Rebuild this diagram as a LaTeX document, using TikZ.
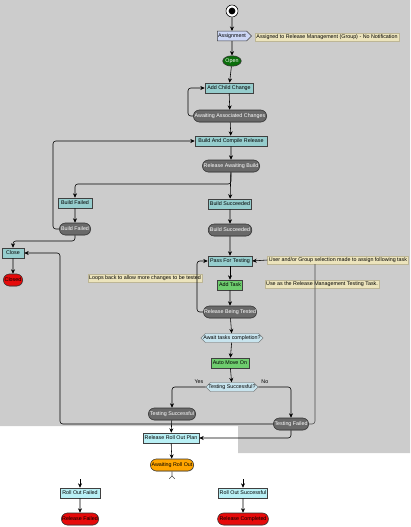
\documentclass[tikz,border=0pt]{standalone}
\usepackage{fontspec}
\setsansfont{Liberation Sans}
\usepackage{tikz}
\usetikzlibrary{arrows.meta,positioning,shapes.geometric,shapes.misc,shapes.symbols,shadows}
\definecolor{screengray}{RGB}{204,204,204}
\definecolor{boxteal}{RGB}{150,205,205}
\definecolor{stategray}{RGB}{105,105,105}
\definecolor{taskgreen}{RGB}{110,205,110}
\definecolor{opengreen}{RGB}{10,110,10}
\definecolor{closedred}{RGB}{230,10,10}
\definecolor{rolloutorange}{RGB}{255,165,0}
\definecolor{notebeige}{RGB}{236,228,188}
\definecolor{decideblue}{RGB}{200,228,238}
\definecolor{planblue}{RGB}{185,240,245}
\tikzset{
  unit/.style={draw=black!75,line width=0.4pt,fill=boxteal,minimum height=0.25cm,inner xsep=1pt,inner ysep=0.5pt,font=\tinytext,drop shadow={shadow xshift=0.4pt,shadow yshift=-0.4pt,opacity=0.35}},
  task/.style={unit,fill=taskgreen},
  plan/.style={unit,fill=planblue},
  state/.style={rounded rectangle,draw=black!80,line width=0.4pt,fill=stategray,text=white!88,minimum height=0.3cm,inner xsep=1pt,inner ysep=0.5pt,font=\tinytext,drop shadow={shadow xshift=0.4pt,shadow yshift=-0.4pt,opacity=0.35}},
  endstate/.style={state,fill=closedred,text=black},
  note/.style={fill=notebeige,draw=notebeige!80!black,line width=0.2pt,inner xsep=1pt,inner ysep=1pt,font=\tinytext},
  decide/.style={chamfered rectangle,chamfered rectangle xsep=0.15cm,chamfered rectangle ysep=0.05cm,draw=black!60,line width=0.3pt,fill=decideblue,inner xsep=0pt,inner ysep=0pt,font=\tinytext},
  arr/.style={-{Stealth[length=1.1mm,width=1mm]},draw=black,line width=0.4pt},
  link/.style={draw=black!70,line width=0.4pt,rounded corners=2pt}
}
\newcommand{\tinytext}{\sffamily\fontsize{3.8}{4.2}\selectfont}

\begin{document}
\begin{tikzpicture}[x=0.025cm,y=-0.025cm]
  \useasboundingbox (0,0) rectangle (410,527);
  \fill[screengray] (0,0) -- (410,0) -- (410,453) -- (238,453) -- (238,426) -- (0,426) -- cycle;

  % start and assignment
  \node[circle,draw=black,fill=white,minimum size=0.3cm,inner sep=0pt] (start) at (232,11) {};
  \node[circle,fill=black,minimum size=0.17cm,inner sep=0pt] at (start) {};
  \node[signal,signal to=east,draw=black!75,fill=boxteal!60!blue!30,minimum height=0.24cm,minimum width=0.8cm,inner sep=0.5pt,font=\tinytext] (assign) at (232,36) {Assignment};
  \node[note] (assignnote) at (327,37) {Assigned to Release Management (Group) - No Notification};
  \node[ellipse,draw=black!80,fill=opengreen,text=white!85,minimum width=0.45cm,minimum height=0.26cm,inner sep=0pt,font=\tinytext] (open) at (232,61) {Open};

  % child changes and build
  \node[unit,minimum width=1.2cm] (addchild) at (229,88) {Add Child Change};
  \node[state,minimum width=1.9cm] (awaitassoc) at (230,116) {Awaiting Associated Changes};
  \node[unit,minimum width=1.8cm] (compile) at (231,141) {Build And Compile Release};
  \node[state,minimum width=1.5cm] (awaitbuild) at (231,166) {Release Awaiting Build};
  \node[unit,minimum width=0.85cm] (buildfail) at (75,203) {Build Failed};
  \node[state,minimum width=0.85cm] (buildfailed) at (75,229) {Build Failed};
  \node[unit,minimum width=1cm] (buildok) at (230,204) {Build Succeeded};
  \node[state,minimum width=1cm] (buildokd) at (230,230) {Build Succeeded};
  \node[unit,minimum width=0.55cm] (close) at (13,253) {Close};
  \node[endstate,minimum width=0.55cm] (closed) at (13,280) {Closed};

  % testing
  \node[unit,minimum width=1.1cm] (passtest) at (230,261) {Pass For Testing};
  \node[note] (usernote) at (338,260) {User and/or Group selection made to assign following task};
  \node[note] (tasknote) at (322,284) {Use as the Release Management Testing Task.};
  \node[note] (loopnote) at (145,278) {Loops back to allow more changes to be tested};
  \node[task,minimum width=0.6cm] (addtask) at (230,285) {Add Task};
  \node[state,minimum width=1.4cm] (beingtested) at (230,312) {Release Being Tested};
  \node[decide] (awaittasks) at (232,338) {Await tasks completion?};
  \node[task,minimum width=0.95cm] (automove) at (230,363) {Auto Move On};
  \node[decide] (testok) at (232,387) {Testing Successful?};
  \node[state,minimum width=1.25cm] (testsucc) at (172,414) {Testing Successful};
  \node[state,minimum width=0.95cm] (testfail) at (291,424) {Testing Failed};

  % roll out
  \node[plan,minimum width=1.4cm] (rollplan) at (171,438) {Release Roll Out Plan};
  \node[state,fill=rolloutorange,text=black,minimum width=1.15cm] (awaitroll) at (172,465) {Awaiting Roll Out};
  \node[plan,minimum width=1cm] (rollfail) at (80,493) {Roll Out Failed};
  \node[endstate,minimum width=1cm] (relfail) at (80,519) {Release Failed};
  \node[plan,minimum width=1.05cm] (rollok) at (243,493) {Roll Out Successful};
  \node[endstate,minimum width=1.05cm] (relok) at (243,519) {Release Completed};
  \coordinate (rollstub) at (172,479);
  \coordinate (failstub) at (80,479);
  \coordinate (okstub) at (243,479);
  \coordinate (usertap) at (315,264);

  % straight flow
  \draw[arr] (start) -- (assign);
  \draw[arr] (assign) -- (open);
  \draw[arr] (open) -- (addchild);
  \draw[arr] (addchild) -- (awaitassoc);
  \draw[arr] (awaitassoc) -- (compile);
  \draw[arr] (compile) -- (awaitbuild);
  \draw[arr] (awaitbuild) -- (buildok);
  \draw[arr] (buildfail) -- (buildfailed);
  \draw[arr] (buildok) -- (buildokd);
  \draw[arr] (buildokd) -- (passtest);
  \draw[arr] (close) -- (closed);
  \draw[arr] (passtest) -- (addtask);
  \draw[arr] (addtask) -- (beingtested);
  \draw[arr] (beingtested) -- (awaittasks);
  \draw[arr] (awaittasks) -- (automove);
  \draw[arr] (automove) -- (testok);
  \draw[arr] (testsucc) -- (rollplan);
  \draw[arr] (rollplan) -- (awaitroll);
  \draw[link,-{Straight Barb[length=0.7mm,width=1.4mm,reversed]}] (awaitroll) -- (rollstub);
  \draw[arr] (failstub) -- (rollfail);
  \draw[arr] (okstub) -- (rollok);
  \draw[arr] (rollfail) -- (relfail);
  \draw[arr] (rollok) -- (relok);

  % loops and branches
  \draw[link,arr,rounded corners=2pt] (awaitassoc.west) -| (188,100) |- (addchild.west);
  \draw[link,arr,rounded corners=2pt] (awaitbuild.south) |- (180,184) -| (buildfail.north);
  \draw[link,arr,rounded corners=2pt] (buildfailed.west) -| (53,180) |- (compile.west);
  \draw[link,arr,rounded corners=2pt] (buildfailed.south) |- (40,241) -| (close.north);
  \draw[link,arr,rounded corners=2pt] (beingtested.west) -| (197,280) |- (passtest.west);
  \draw[link,arr,rounded corners=2pt] (testok.west) -| node[pos=0.1,above=-1pt,font=\tinytext]{Yes} (testsucc.north);
  \draw[link,arr,rounded corners=2pt] (testok.east) -| node[pos=0.1,above=-1pt,font=\tinytext]{No} (testfail.north);
  \draw[link,arr,rounded corners=2pt] (testfail.west) -| (60,300) |- (close.east);
  \draw[link,rounded corners=2pt] (testfail.east) -| (usertap);
  \draw[arr] (usernote.west) -- (passtest.east);
  \draw[link,arr,rounded corners=2pt] (testfail.south) |- (rollplan.east);
\end{tikzpicture}
\end{document}
